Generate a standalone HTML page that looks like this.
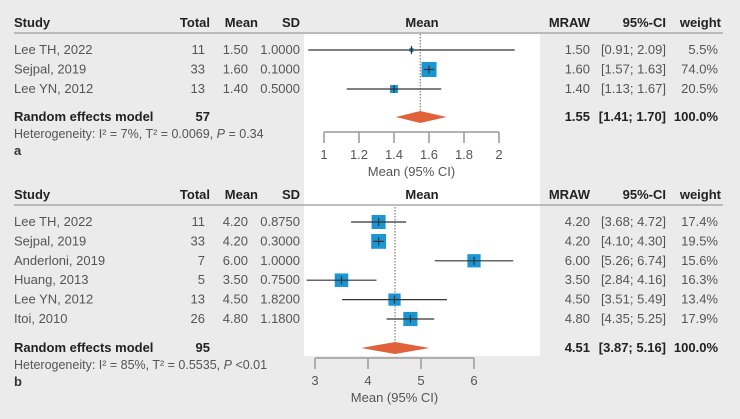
<!DOCTYPE html>
<html><head><meta charset="utf-8"><style>
body{margin:0;background:#ebebeb;}
svg{display:block;font-family:"Liberation Sans",sans-serif;}
</style></head><body>
<svg id="c" width="740" height="419">
<rect x="0" y="0" width="740" height="419" fill="#ebebeb"/>
<rect x="304" y="34" width="236" height="322" fill="#ffffff"/>
<g id="g"></g>
</svg>
<script>
// Panel a data
const aStudies=["Lee TH, 2022","Sejpal, 2019","Lee YN, 2012"];
const aTotal=[11,33,13];
const aMean=[1.50,1.60,1.40];
const aSD=["1.0000","0.1000","0.5000"];
const aLo=[0.91,1.57,1.13];
const aHi=[2.09,1.63,1.67];
const aWeight=[5.5,74.0,20.5];
const aPooled=[1.55,1.41,1.70];
const aTicks=[1,1.2,1.4,1.6,1.8,2];
// Panel b data
const bStudies=["Lee TH, 2022","Sejpal, 2019","Anderloni, 2019","Huang, 2013","Lee YN, 2012","Itoi, 2010"];
const bTotal=[11,33,7,5,13,26];
const bMean=[4.20,4.20,6.00,3.50,4.50,4.80];
const bSD=["0.8750","0.3000","1.0000","0.7500","1.8200","1.1800"];
const bLo=[3.68,4.10,5.26,2.84,3.51,4.35];
const bHi=[4.72,4.30,6.74,4.16,5.49,5.25];
const bWeight=[17.4,19.5,15.6,16.3,13.4,17.9];
const bPooled=[4.51,3.87,5.16];
const bTicks=[3,4,5,6];

const NS="http://www.w3.org/2000/svg";
const G=document.getElementById('g');
function el(t,a,txt){const e=document.createElementNS(NS,t);for(const k in a)e.setAttribute(k,a[k]);if(txt!==undefined)e.textContent=txt;G.appendChild(e);return e;}
function tx(x,y,s,anchor,bold,name,col){const e=el('text',{x:x,y:y,'font-size':13,'text-anchor':anchor||'start','font-weight':bold?'bold':'normal',fill:col||(bold?'#222':'#555')},s);


return e;}
function panel(o){
  const p=o.p;
  const top=o.headerY;
  tx(14,top,'Study','start',true,p+'-header-study');
  tx(210,top,'Total','end',true,p+'-header-total');
  tx(258,top,'Mean','end',true,p+'-header-mean');
  tx(300,top,'SD','end',true,p+'-header-sd');
  tx(422,top,'Mean','middle',true,p+'-header-plot-mean');
  tx(590,top,'MRAW','end',true,p+'-header-mraw');
  tx(666,top,'95%-CI','end',true,p+'-header-ci');
  tx(721,top,'weight','end',true,p+'-header-weight');
  const ln=el('line',{x1:14,x2:723,y1:top+6,y2:top+6,stroke:'#aaa','stroke-width':1.5});
  
  
  const X=v=>o.x0+(v-o.t0)*o.ppu;
  const dl=el('line',{x1:X(o.pooled[0]),x2:X(o.pooled[0]),y1:o.dotTop,y2:o.diamY+6,stroke:'#666','stroke-dasharray':'1.5,1.5'});
  
  
  for(let i=0;i<o.studies.length;i++){
    const y=o.rowY+i*o.rowH;
    tx(14,y+4,o.studies[i],'start',false,p+'-study-name');
    tx(205,y+4,String(o.total[i]),'end',false,p+'-total');
    tx(248,y+4,o.mean[i].toFixed(2),'end',false,p+'-mean');
    tx(300,y+4,o.sd[i],'end',false,p+'-sd');
    tx(590,y+4,o.mean[i].toFixed(2),'end',false,p+'-mraw');
    tx(666,y+4,'['+o.lo[i].toFixed(2)+'; '+o.hi[i].toFixed(2)+']','end',false,p+'-ci');
    tx(718,y+4,o.weight[i].toFixed(1)+'%','end',false,p+'-weight');
    const lo=Math.max(X(o.lo[i]),305),hi=Math.min(X(o.hi[i]),539);
    const s=o.k*Math.sqrt(o.weight[i]);
    const r=el('rect',{x:X(o.mean[i])-s/2,y:y-s/2,width:s,height:s,fill:'#1a96d4'});
    
    
    const l=el('line',{x1:lo,x2:hi,y1:y,y2:y,stroke:'#333','stroke-width':1.2});
    
    
    const t=el('line',{x1:X(o.mean[i]),x2:X(o.mean[i]),y1:y-4,y2:y+4,stroke:'#333','stroke-width':1.2});
    
    
  }
  const dy=o.diamY;
  tx(14,dy+4,'Random effects model','start',true,p+'-pooled-label');
  tx(210,dy+4,String(o.total.reduce((a,b)=>a+b,0)),'end',true,p+'-pooled-total');
  tx(590,dy+4,o.pooled[0].toFixed(2),'end',true,p+'-pooled-mraw');
  tx(666,dy+4,'['+o.pooled[1].toFixed(2)+'; '+o.pooled[2].toFixed(2)+']','end',true,p+'-pooled-ci');
  tx(718,dy+4,'100.0%','end',true,p+'-pooled-weight');
  const d=el('polygon',{points:`${X(o.pooled[1])},${dy} ${X(o.pooled[0])},${dy-6} ${X(o.pooled[2])},${dy} ${X(o.pooled[0])},${dy+6}`,fill:'#e0623a'});
  
  
  const het=el('text',{x:14,y:dy+21,'font-size':12.5,fill:'#555'});
  het.innerHTML=o.het;
  
  
  tx(14,dy+38,p==='panel-a'?'a':'b','start',true,p+'-label','#333');
  const ay=o.axisY;
  const ax=el('line',{x1:X(o.ticks[0]),x2:X(o.ticks[o.ticks.length-1]),y1:ay,y2:ay,stroke:'#999','stroke-width':1.5});
  
  
  o.ticks.forEach(v=>{
    const tk=el('line',{x1:X(v),x2:X(v),y1:ay,y2:ay+11,stroke:'#999','stroke-width':1.5});
    
    
    tx(X(v),ay+27,String(v),'middle',false,p+'-x-tick-label');
  });
  tx((X(o.ticks[0])+X(o.ticks[o.ticks.length-1]))/2,ay+44,'Mean (95% CI)','middle',false,p+'-x-axis-title');
}
panel({p:'panel-a',headerY:27,studies:aStudies,total:aTotal,mean:aMean,sd:aSD,lo:aLo,hi:aHi,weight:aWeight,pooled:aPooled,ticks:aTicks,
  x0:324,t0:1,ppu:175,rowY:50,rowH:19.5,diamY:117,dotTop:34,axisY:132,k:1.75,
  het:'Heterogeneity: I² = 7%, T² = 0.0069, <tspan font-style="italic">P</tspan> = 0.34'});
panel({p:'panel-b',headerY:199,studies:bStudies,total:bTotal,mean:bMean,sd:bSD,lo:bLo,hi:bHi,weight:bWeight,pooled:bPooled,ticks:bTicks,
  x0:315,t0:3,ppu:53,rowY:222,rowH:19.4,diamY:348,dotTop:207,axisY:358,k:3.35,
  het:'Heterogeneity: I² = 85%, T² = 0.5535, <tspan font-style="italic">P</tspan> &lt;0.01'});
</script>
</body></html>
